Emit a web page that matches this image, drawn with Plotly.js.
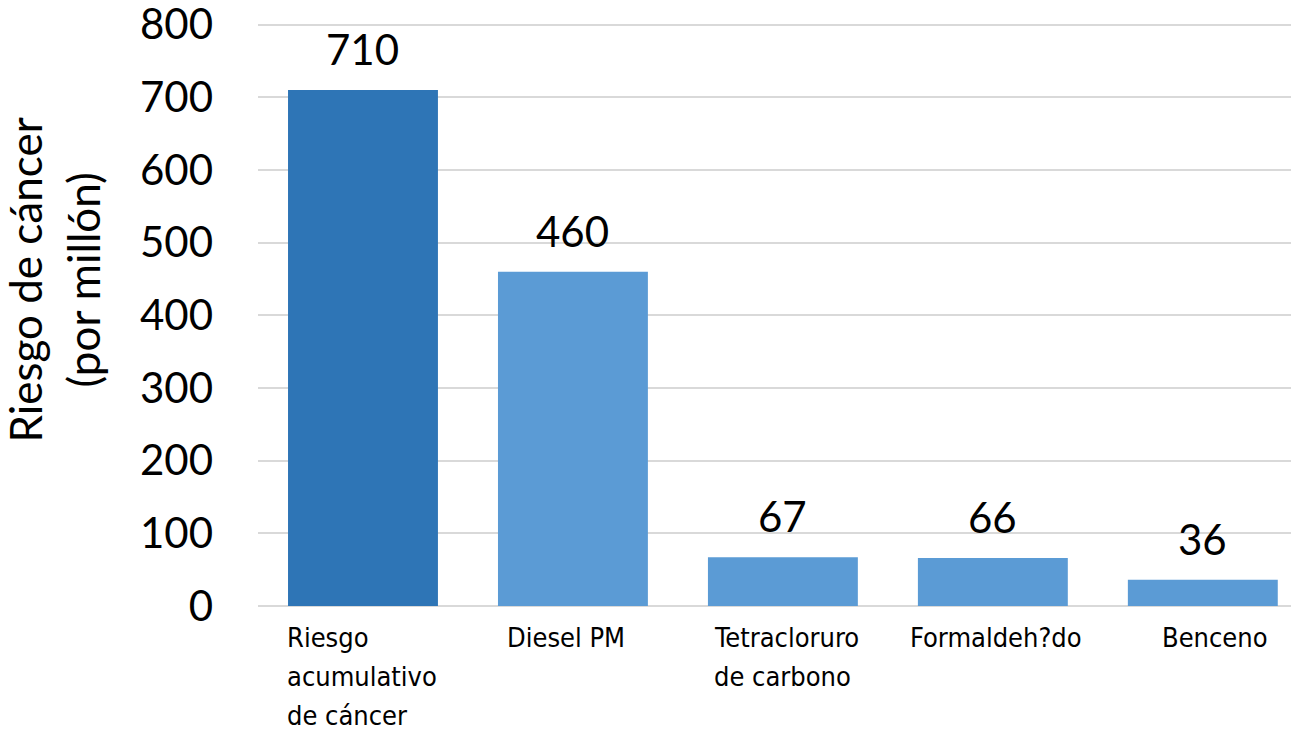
<!DOCTYPE html>
<html>
<head>
<meta charset="utf-8">
<script src="https://cdn.plot.ly/plotly-3.0.1.min.js"></script>
<style>html,body{margin:0;padding:0;overflow:hidden;background:#fff;}</style>
</head>
<body>
<div id="chart" style="width:1291px;height:730px;"></div>
<script>
var categories = ["Riesgo acumulativo de cáncer", "Diesel PM", "Tetracloruro de carbono", "Formaldeh?do", "Benceno"];
var tickLabels = [["Riesgo", "acumulativo", "de cáncer"], ["Diesel PM"], ["Tetracloruro", "de carbono"], ["Formaldeh?do"], ["Benceno"]];
var values = [710, 460, 67, 66, 36];
var barColors = ["#2E75B6", "#5B9BD5", "#5B9BD5", "#5B9BD5", "#5B9BD5"];
var yTicks = [0, 100, 200, 300, 400, 500, 600, 700, 800];
var labelShifts = [-78, -68, -71, -85, -43];

var xIdx = categories.map(function(c, i){ return i; });

var trace = {
  type: "bar",
  x: xIdx,
  y: values,
  marker: {color: barColors},
  hoverinfo: "none"
};

var numFont = {family: "Lato, 'Open Sans', sans-serif", size: 42, color: "#000"};
var annotations = [];
values.forEach(function(v, i){
  annotations.push({
    x: i, xref: "x", y: v, yref: "y",
    yanchor: "bottom", xanchor: "center", yshift: 14,
    text: String(v), showarrow: false, font: numFont
  });
});
tickLabels.forEach(function(lines, i){
  lines.forEach(function(t, j){
    annotations.push({
      x: i, xref: "x", y: 0, yref: "paper",
      yanchor: "top", xanchor: "left",
      xshift: labelShifts[i], yshift: -14 - 39 * j,
      text: t, showarrow: false,
      font: {family: "'Liberation Sans Narrow', 'DejaVu Sans Condensed', sans-serif", size: 27, color: "#000"}
    });
  });
});
annotations.push({
  x: -0.198, xref: "paper", y: 0.5525, yref: "paper",
  xanchor: "center", yanchor: "middle", textangle: -90,
  text: "Riesgo de cáncer<br>(por millón)", showarrow: false,
  font: {family: "Lato, 'Open Sans', sans-serif", size: 44, color: "#000"}
});

var layout = {
  width: 1291, height: 730,
  margin: {l: 258, r: 0, t: 16, b: 124, pad: 0},
  paper_bgcolor: "#fff", plot_bgcolor: "#fff",
  showlegend: false,
  bargap: 0.286,
  xaxis: {
    range: [-0.5, 4.42],
    showticklabels: false, showgrid: false, zeroline: false,
    showline: false, ticks: "", fixedrange: true
  },
  yaxis: {
    range: [0, 812],
    tickvals: yTicks,
    ticktext: yTicks.map(String),
    showgrid: true, gridcolor: "#D9D9D9", gridwidth: 2,
    zeroline: true, zerolinecolor: "#D9D9D9", zerolinewidth: 2,
    showline: false, ticks: "",
    ticklabelstandoff: 44,
    ticklabeloverflow: "allow",
    tickfont: numFont,
    fixedrange: true
  },
  annotations: annotations
};

Plotly.newPlot("chart", [trace], layout, {displayModeBar: false, staticPlot: true});
</script>
</body>
</html>
